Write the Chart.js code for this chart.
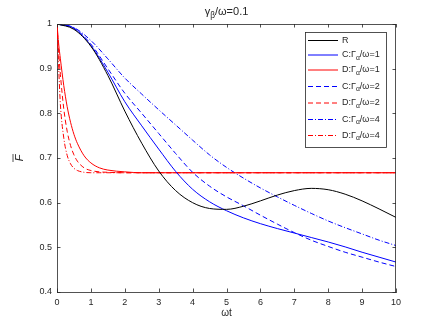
<!DOCTYPE html>
<html>
<head>
<meta charset="utf-8">
<script src="https://cdn.jsdelivr.net/npm/chart.js@4/dist/chart.umd.min.js"></script>
<style>
  html, body { margin: 0; padding: 0; background: #fff; }
  #wrap { width: 436px; height: 327px; }
</style>
</head>
<body>
<div id="wrap"><canvas id="chart" width="436" height="327"></canvas></div>
<script>
// tiempos (ωt) para R y curvas C
const timeC = [0, 0.5, 1, 1.5, 2, 2.5, 3, 3.5, 4, 4.5, 5, 5.5, 6, 6.5, 7, 7.5, 8, 8.5, 9, 9.5, 10];
const valuesR  = [1, 0.988, 0.95, 0.885, 0.805, 0.733, 0.671, 0.627, 0.6, 0.587, 0.585, 0.592, 0.604, 0.617, 0.627, 0.632, 0.629, 0.619, 0.604, 0.586, 0.567];
const valuesC1 = [1, 0.99, 0.952, 0.892, 0.826, 0.772, 0.72, 0.67, 0.63, 0.602, 0.582, 0.566, 0.553, 0.542, 0.532, 0.522, 0.512, 0.501, 0.489, 0.478, 0.467];
const valuesC2 = [1, 0.991, 0.955, 0.9, 0.845, 0.8, 0.755, 0.71, 0.668, 0.637, 0.613, 0.593, 0.572, 0.552, 0.533, 0.516, 0.502, 0.489, 0.478, 0.467, 0.457];
const valuesC4 = [1, 0.992, 0.963, 0.922, 0.879, 0.843, 0.808, 0.774, 0.74, 0.707, 0.679, 0.655, 0.633, 0.613, 0.594, 0.576, 0.559, 0.544, 0.53, 0.516, 0.504];

// tiempos más finos para las curvas D (caída rápida al inicio)
const timeD = [0, 0.05, 0.1, 0.2, 0.3, 0.4, 0.5, 0.6, 0.8, 1, 1.25, 1.5, 2, 2.5, 3, 10];
const valuesD1 = [1, 0.955, 0.922, 0.862, 0.815, 0.78, 0.753, 0.733, 0.705, 0.689, 0.678, 0.673, 0.669, 0.667, 0.667, 0.667];
const valuesD2 = [1, 0.936, 0.887, 0.81, 0.76, 0.728, 0.707, 0.693, 0.678, 0.672, 0.669, 0.668, 0.667, 0.667, 0.667, 0.667];
const valuesD4 = [1, 0.902, 0.82, 0.745, 0.706, 0.687, 0.677, 0.672, 0.668, 0.667, 0.667, 0.667, 0.667, 0.667, 0.667, 0.667];

const xTicks = [0, 1, 2, 3, 4, 5, 6, 7, 8, 9, 10];
const yTicks = [0.4, 0.5, 0.6, 0.7, 0.8, 0.9, 1];

const FONT = '"Liberation Sans", Arial, sans-serif';
const AXIS_COLOR = '#262626';

const toPoints = (xs, ys) => xs.map((x, i) => ({ x: x, y: ys[i] }));

// etiquetas con subíndice: [texto, subíndice, texto]
const series = [
  { label: ['R', '', ''], t: timeC, v: valuesR, color: '#000000', dash: [] },
  { label: ['C:Γ', 'α', '/ω=1'], t: timeC, v: valuesC1, color: '#0000ff', dash: [] },
  { label: ['D:Γ', 'α', '/ω=1'], t: timeD, v: valuesD1, color: '#ff0000', dash: [] },
  { label: ['C:Γ', 'α', '/ω=2'], t: timeC, v: valuesC2, color: '#0000ff', dash: [5, 3] },
  { label: ['D:Γ', 'α', '/ω=2'], t: timeD, v: valuesD2, color: '#ff0000', dash: [5, 3] },
  { label: ['C:Γ', 'α', '/ω=4'], t: timeC, v: valuesC4, color: '#0000ff', dash: [5, 2, 1, 2] },
  { label: ['D:Γ', 'α', '/ω=4'], t: timeD, v: valuesD4, color: '#ff0000', dash: [5, 2, 1, 2] }
];

function drawRich(ctx, parts, x, y, size) {
  // parts[0] normal, parts[1] subíndice, parts[2] normal
  ctx.font = size + 'px ' + FONT;
  ctx.fillText(parts[0], x, y);
  x += ctx.measureText(parts[0]).width;
  if (parts[1]) {
    ctx.font = (size * 0.75) + 'px ' + FONT;
    ctx.fillText(parts[1], x, y + size * 0.3);
    x += ctx.measureText(parts[1]).width;
  }
  ctx.font = size + 'px ' + FONT;
  ctx.fillText(parts[2], x, y);
  x += ctx.measureText(parts[2]).width;
  return x;
}

function richWidth(ctx, parts, size) {
  ctx.font = size + 'px ' + FONT;
  let w = ctx.measureText(parts[0]).width + ctx.measureText(parts[2]).width;
  if (parts[1]) {
    ctx.font = (size * 0.75) + 'px ' + FONT;
    w += ctx.measureText(parts[1]).width;
  }
  return w;
}

const decorPlugin = {
  id: 'decor',
  afterDraw(chart) {
    const ctx = chart.ctx;
    const area = chart.chartArea;
    const xs = chart.scales.x;
    const ys = chart.scales.y;
    ctx.save();

    // caja y marcas hacia dentro (estilo MATLAB)
    ctx.strokeStyle = AXIS_COLOR;
    ctx.lineWidth = 0.8;
    ctx.setLineDash([]);
    ctx.beginPath();
    ctx.moveTo(area.left, area.top + 0.5);
    ctx.lineTo(area.right, area.top + 0.5);
    ctx.moveTo(area.right - 0.5, area.top);
    ctx.lineTo(area.right - 0.5, area.bottom);
    xTicks.forEach(v => {
      const px = Math.round(xs.getPixelForValue(v)) + 0.5;
      ctx.moveTo(px, area.bottom);
      ctx.lineTo(px, area.bottom - 3.5);
      ctx.moveTo(px, area.top);
      ctx.lineTo(px, area.top + 3.5);
    });
    yTicks.forEach(v => {
      const py = Math.round(ys.getPixelForValue(v)) + 0.5;
      ctx.moveTo(area.left, py);
      ctx.lineTo(area.left + 3.5, py);
      ctx.moveTo(area.right, py);
      ctx.lineTo(area.right - 3.5, py);
    });
    ctx.stroke();

    // título
    ctx.fillStyle = AXIS_COLOR;
    ctx.textBaseline = 'alphabetic';
    ctx.textAlign = 'left';
    const title = ['γ', 'β', '/ω=0.1'];
    const tw = richWidth(ctx, title, 11);
    drawRich(ctx, title, (area.left + area.right) / 2 - tw / 2, 15, 11);

    // título eje x
    ctx.font = '10px ' + FONT;
    ctx.textAlign = 'center';
    ctx.fillText('ωt', (area.left + area.right) / 2, 316);

    // título eje y: F con barra
    const cy = (area.top + area.bottom) / 2;
    ctx.save();
    ctx.translate(23, cy);
    ctx.rotate(-Math.PI / 2);
    ctx.font = 'italic 11px ' + FONT;
    ctx.textAlign = 'center';
    ctx.fillText('F', 0, 0);
    ctx.lineWidth = 0.8;
    ctx.beginPath();
    ctx.moveTo(-4, -10);
    ctx.lineTo(4, -10);
    ctx.stroke();
    ctx.restore();

    // leyenda
    const box = { x: 305.5, y: 32.5, w: 81, h: 115 };
    ctx.fillStyle = '#ffffff';
    ctx.fillRect(box.x, box.y, box.w, box.h);
    ctx.strokeStyle = AXIS_COLOR;
    ctx.lineWidth = 0.8;
    ctx.strokeRect(box.x, box.y, box.w, box.h);
    const rows = [40.5, 55, 70, 86.5, 103, 119.5, 135.5];
    series.forEach((s, i) => {
      const ry = rows[i];
      ctx.strokeStyle = s.color;
      ctx.lineWidth = 1;
      ctx.setLineDash(s.dash);
      ctx.beginPath();
      ctx.moveTo(308, ry);
      ctx.lineTo(338, ry);
      ctx.stroke();
      ctx.setLineDash([]);
      ctx.fillStyle = AXIS_COLOR;
      ctx.textAlign = 'left';
      ctx.textBaseline = 'middle';
      drawRich(ctx, s.label, 342, ry, 9);
    });
    ctx.restore();
  }
};

const ctx = document.getElementById('chart').getContext('2d');
new Chart(ctx, {
  type: 'line',
  data: {
    datasets: series.map(s => ({
      label: s.label.join(''),
      data: toPoints(s.t, s.v),
      borderColor: s.color,
      borderWidth: 1,
      borderDash: s.dash,
      pointRadius: 0,
      fill: false,
      cubicInterpolationMode: 'monotone'
    }))
  },
  options: {
    responsive: false,
    animation: false,
    layout: { padding: { left: 0, right: 40, top: 24, bottom: 0 } },
    plugins: {
      legend: { display: false },
      title: { display: false },
      tooltip: { enabled: false }
    },
    scales: {
      x: {
        type: 'linear',
        min: 0,
        max: 10,
        afterFit: (scale) => { scale.height = 35; },
        afterBuildTicks: (scale) => { scale.ticks = xTicks.map(v => ({ value: v })); },
        grid: { display: true, drawOnChartArea: false, drawTicks: false },
        border: { display: true, color: AXIS_COLOR, width: 0.8 },
        ticks: { color: AXIS_COLOR, padding: 5, maxRotation: 0, font: { family: FONT, size: 9 } }
      },
      y: {
        type: 'linear',
        min: 0.4,
        max: 1,
        afterFit: (scale) => { scale.width = 57; },
        afterBuildTicks: (scale) => { scale.ticks = yTicks.map(v => ({ value: v })); },
        grid: { display: true, drawOnChartArea: false, drawTicks: false },
        border: { display: true, color: AXIS_COLOR, width: 0.8 },
        ticks: {
          color: AXIS_COLOR,
          padding: 5,
          font: { family: FONT, size: 9 },
          callback: (v) => String(Math.round(v * 10) / 10)
        }
      }
    }
  },
  plugins: [decorPlugin]
});
</script>
</body>
</html>
